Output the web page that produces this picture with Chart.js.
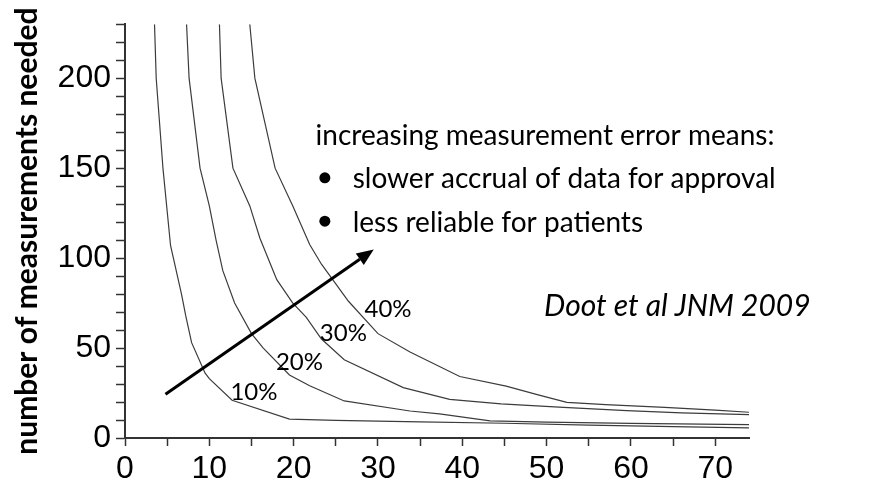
<!DOCTYPE html>
<html>
<head>
<meta charset="utf-8">
<title>Measurements needed</title>
<script src="https://cdn.jsdelivr.net/npm/chart.js"></script>
<style>
    html, body { margin: 0; padding: 0; background: #fff; }
    #contenedor { width: 896px; height: 481px; }
</style>
</head>
<body>
<div id="contenedor"><canvas id="grafico" width="896" height="481"></canvas></div>
<script>
// curvas: numero de medidas segun el error de medida (10%..40%)
const err10X = [3.5, 3.7, 4.5, 5.4, 6.7, 7.2, 7.9, 9.5, 10, 12.7, 19.5, 25, 35, 45, 55, 65, 74];
const err10Y = [230, 200, 150, 107, 80, 68, 53, 36, 33, 21, 10.5, 9.8, 9, 8.2, 7.2, 6.3, 5.6];

const err20X = [7.3, 7.6, 8.9, 10, 10.8, 11.6, 13, 15, 16.4, 19.5, 21.9, 26, 33.8, 37.3, 43.3, 50, 60, 74];
const err20Y = [230, 200, 150, 129, 110, 93, 75, 58, 50, 35, 29, 20.6, 15, 13.4, 9.5, 8.8, 8.1, 7.4];

const err30X = [11.2, 11.4, 12.8, 14.8, 16, 18, 19.9, 21.5, 23.3, 26, 33, 38.5, 44.6, 52, 59.5, 66, 74];
const err30Y = [230, 200, 150, 129, 111, 88, 75, 67, 55, 43.5, 28, 21.5, 19, 17, 15.2, 14, 13];

const err40X = [14.8, 15.4, 17.8, 19.9, 21.9, 23.3, 26.5, 30, 33.8, 39.7, 45.2, 49, 52.4, 57, 64, 70, 74];
const err40Y = [230, 200, 150, 129, 107.5, 96.6, 76, 58, 47.8, 34.2, 28.8, 24, 19.8, 18.5, 17, 15.5, 14.3];

// etiquetas de las curvas (posicion en unidades de datos, esquina inferior izquierda)
const etiquetasCurva = ['10%', '20%', '30%', '40%'];
const etiquetaX = [12.5, 17.9, 23.1, 28.4];
const etiquetaY = [21, 37.8, 54.1, 67.3];

// ticks con texto
const ticksX = [0, 10, 20, 30, 40, 50, 60, 70];
const ticksY = [0, 50, 100, 150, 200];

// flecha (inicio y punta, unidades de datos)
const flechaInicio = [4.8, 24.3];
const flechaFin = [29.5, 104.8];

// textos
const notaTitulo = 'increasing measurement error means:';
const notaPuntos = ['slower accrual of data for approval', 'less reliable for patients'];
const notaX = 22.6;
const notaY = [163, 138.8, 114.7];
const vinetaX = 23.7;
const puntoTextoX = 27;
const cita = 'Doot et al JNM 2009';
const citaPos = [49.7, 67.9];

function armarSerie(xs, ys) {
    return xs.map((x, i) => ({ x: x, y: ys[i] }));
}

function serie(xs, ys) {
    return {
        data: armarSerie(xs, ys),
        borderColor: '#3c3c3c',
        borderWidth: 1.2,
        pointRadius: 0,
        tension: 0,
        fill: false
    };
}

function esMultiplo(v, paso) {
    return Math.abs(v - Math.round(v / paso) * paso) < 1e-6;
}

function etiquetaTick(lista) {
    return (v) => {
        const r = Math.round(v);
        return (esMultiplo(v, 1) && lista.includes(r)) ? String(r) : '';
    };
}

const anotaciones = {
    id: 'anotaciones',
    afterDatasetsDraw(chart) {
        const ctx = chart.ctx;
        const sx = chart.scales.x;
        const sy = chart.scales.y;
        ctx.save();

        // etiquetas de porcentaje
        ctx.fillStyle = '#000';
        ctx.font = '24px Lato';
        ctx.textAlign = 'left';
        ctx.textBaseline = 'alphabetic';
        etiquetasCurva.forEach((t, i) => {
            ctx.fillText(t, sx.getPixelForValue(etiquetaX[i]), sy.getPixelForValue(etiquetaY[i]));
        });

        // flecha
        const x0 = sx.getPixelForValue(flechaInicio[0]);
        const y0 = sy.getPixelForValue(flechaInicio[1]);
        const x1 = sx.getPixelForValue(flechaFin[0]);
        const y1 = sy.getPixelForValue(flechaFin[1]);
        const ang = Math.atan2(y1 - y0, x1 - x0);
        const largo = 17, ancho = 7;
        const bx = x1 - largo * Math.cos(ang);
        const by = y1 - largo * Math.sin(ang);
        ctx.strokeStyle = '#000';
        ctx.lineWidth = 3;
        ctx.beginPath();
        ctx.moveTo(x0, y0);
        ctx.lineTo(bx, by);
        ctx.stroke();
        ctx.beginPath();
        ctx.moveTo(x1, y1);
        ctx.lineTo(bx + ancho * Math.sin(ang), by - ancho * Math.cos(ang));
        ctx.lineTo(bx - ancho * Math.sin(ang), by + ancho * Math.cos(ang));
        ctx.closePath();
        ctx.fill();

        // nota
        ctx.font = '28px Lato';
        ctx.fillText(notaTitulo, sx.getPixelForValue(notaX), sy.getPixelForValue(notaY[0]));
        notaPuntos.forEach((t, i) => {
            const yb = sy.getPixelForValue(notaY[i + 1]);
            ctx.beginPath();
            ctx.arc(sx.getPixelForValue(vinetaX), yb - 10.5, 5.5, 0, Math.PI * 2);
            ctx.fill();
            ctx.fillText(t, sx.getPixelForValue(puntoTextoX), yb);
        });

        // cita
        ctx.font = 'italic 30px Lato';
        ctx.fillText(cita, sx.getPixelForValue(citaPos[0]), sy.getPixelForValue(citaPos[1]));

        ctx.restore();
    }
};

function crearGrafico() {
    const canvas = document.getElementById('grafico');
    new Chart(canvas.getContext('2d'), {
        type: 'line',
        data: {
            datasets: [
                serie(err10X, err10Y),
                serie(err20X, err20Y),
                serie(err30X, err30Y),
                serie(err40X, err40Y)
            ]
        },
        options: {
            responsive: false,
            animation: false,
            layout: { padding: { left: 0, top: 14, right: 147, bottom: 0 } },
            plugins: {
                legend: { display: false },
                tooltip: { enabled: false }
            },
            scales: {
                x: {
                    type: 'linear',
                    min: 0,
                    max: 74,
                    afterBuildTicks: (scale) => {
                        scale.ticks = scale.ticks.filter(t => esMultiplo(t.value, 5));
                    },
                    afterFit: (scale) => { scale.height = 43; },
                    ticks: {
                        stepSize: 5,
                        includeBounds: false,
                        autoSkip: false,
                        maxRotation: 0,
                        padding: 4,
                        color: '#000',
                        font: { family: 'Liberation Sans', size: 32 },
                        callback: etiquetaTick(ticksX)
                    },
                    grid: {
                        drawOnChartArea: false,
                        drawTicks: true,
                        tickLength: 8,
                        tickColor: '#333',
                        tickWidth: 1.5
                    },
                    border: { display: true, color: '#333', width: 2 }
                },
                y: {
                    min: 0,
                    max: 230,
                    afterFit: (scale) => { scale.width = 125; },
                    ticks: {
                        stepSize: 10,
                        autoSkip: false,
                        padding: 5,
                        color: '#000',
                        font: { family: 'Liberation Sans', size: 32 },
                        callback: etiquetaTick(ticksY)
                    },
                    grid: {
                        drawOnChartArea: false,
                        drawTicks: true,
                        tickLength: 9,
                        tickColor: '#333',
                        tickWidth: 1.5
                    },
                    border: { display: true, color: '#333', width: 2 },
                    title: {
                        display: true,
                        text: 'number of measurements needed',
                        color: '#000',
                        font: { family: 'Lato', size: 30, weight: 'bold' },
                        padding: { top: 9, bottom: 0 }
                    }
                }
            }
        },
        plugins: [anotaciones]
    });
}

crearGrafico();
</script>
</body>
</html>
